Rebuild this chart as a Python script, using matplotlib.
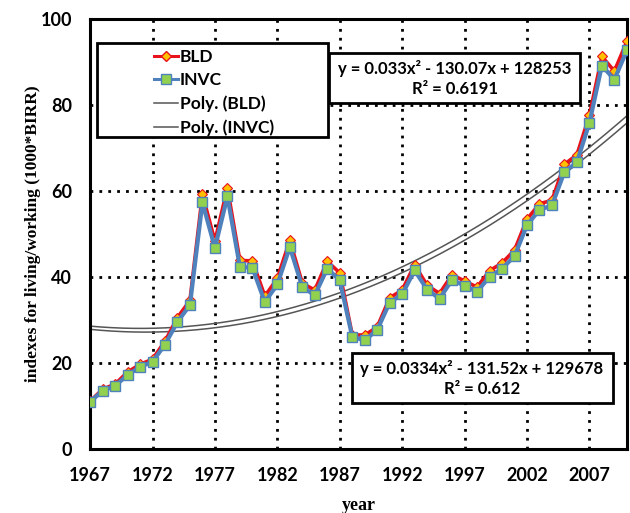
import numpy as np
import matplotlib
matplotlib.use('Agg')
import matplotlib.pyplot as plt
from matplotlib.lines import Line2D
from matplotlib.patches import Rectangle

years = np.arange(1967, 2011)

bld = [11.0, 13.8, 15.0, 17.8, 19.6, 20.8, 25.0, 30.5, 34.5, 59.2,
       48.3, 60.7, 43.8, 43.7, 35.5, 39.6, 48.5, 38.5, 36.9, 43.6,
       40.9, 26.5, 26.4, 28.3, 35.1, 36.9, 42.8, 38.0, 36.1, 40.5,
       39.0, 37.6, 41.4, 43.2, 46.2, 53.4, 57.0, 57.8, 66.2, 68.4,
       77.6, 91.3, 87.9, 94.8]

invc = [10.9, 13.4, 14.6, 17.1, 19.0, 20.2, 24.2, 29.5, 33.4, 57.3,
        46.7, 58.7, 42.3, 42.1, 34.1, 38.2, 46.9, 37.6, 35.7, 41.9,
        39.2, 26.0, 25.2, 27.6, 34.0, 35.9, 41.5, 37.0, 34.9, 39.3,
        37.9, 36.5, 40.0, 41.9, 44.8, 52.0, 55.6, 56.6, 64.4, 66.7,
        75.8, 89.2, 85.9, 92.7]

xticks = np.arange(1967, 2008, 5)
yticks = np.arange(0, 101, 20)

eq_bld = 'y = 0.033x² - 130.07x + 128253\nR² = 0.6191'
eq_invc = 'y = 0.0334x² - 131.52x + 129678\nR² = 0.612'

tick_font = 'Lato'
label_font = 'Liberation Serif'

fig = plt.figure(figsize=(6.3, 5.13), dpi=100)
ax = fig.add_axes([0.143, 0.1257, 0.852, 0.837])

# 2nd order polynomial trend lines (years centred for a stable fit)
xc = years - years.mean()
xs = np.linspace(years[0], years[-1], 300)
fit_bld = np.polyval(np.polyfit(xc, bld, 2), xs - years.mean())
fit_invc = np.polyval(np.polyfit(xc, invc, 2), xs - years.mean())

ax.plot(years, bld, color='#E8121B', lw=2.6, marker='D', markersize=5.5,
        markerfacecolor='#FFC000', markeredgecolor='#E8121B', markeredgewidth=0.8, zorder=3)
ax.plot(years, invc, color='#4F81BD', lw=3.0, marker='s', markersize=7.5,
        markerfacecolor='#92D050', markeredgecolor='#4F81BD', markeredgewidth=1.0, zorder=4)
ax.plot(xs, fit_bld, color='#555555', lw=1.1, zorder=2)
ax.plot(xs, fit_invc, color='#555555', lw=1.1, zorder=2)

ax.set_xlim(1967, 2010)
ax.set_ylim(0, 100)
ax.set_xticks(xticks)
ax.set_yticks(yticks)
ax.grid(True, color='black', linestyle=(0, (1, 2.2)), lw=2.0, zorder=1)
ax.set_axisbelow(True)
ax.tick_params(length=0, pad=13)
for lab in ax.get_xticklabels() + ax.get_yticklabels():
    lab.set_fontfamily(tick_font)
    lab.set_fontweight('bold')
    lab.set_fontsize(13)
for sp in ax.spines.values():
    sp.set_linewidth(2.2)

ax.set_xlabel('year', fontfamily=label_font, fontweight='bold', fontsize=13, labelpad=10)
ax.set_ylabel('indexes for living/working (1000*BIRR)', fontfamily=label_font,
              fontweight='bold', fontsize=12.5, labelpad=0)

# legend with its own frame
ax.add_patch(Rectangle((0.0125, 0.726), 0.4305, 0.219, transform=ax.transAxes,
                       facecolor='white', edgecolor='black', lw=2.0, zorder=5))
legend_elements = [
    Line2D([0], [0], color='#E8121B', lw=2.2, marker='D', markersize=5,
           markerfacecolor='#FFC000', markeredgecolor='#E8121B', label='BLD'),
    Line2D([0], [0], color='#4F81BD', lw=2.2, marker='s', markersize=6.5,
           markerfacecolor='#92D050', markeredgecolor='#4F81BD', label='INVC'),
    Line2D([0], [0], color='#555555', lw=1.1, label='Poly. (BLD)'),
    Line2D([0], [0], color='#555555', lw=1.1, label='Poly. (INVC)'),
]
leg = ax.legend(handles=legend_elements, loc='upper left', bbox_to_anchor=(0.119, 0.931),
                frameon=False, borderpad=0, borderaxespad=0, handlelength=1.4,
                labelspacing=0.42, handletextpad=0.1,
                prop={'family': tick_font, 'weight': 'bold', 'size': 12.5})
leg.set_zorder(6)

# trend line equation boxes
ax.add_patch(Rectangle((0.4456, 0.8037), 0.4669, 0.1178, transform=ax.transAxes,
                       facecolor='white', edgecolor='black', lw=2.0, zorder=5))
ax.text(0.679, 0.8626, eq_bld, transform=ax.transAxes, ha='center', va='center',
        fontfamily=tick_font, fontweight='bold', fontsize=12, linespacing=1.3, zorder=6)
ax.add_patch(Rectangle((0.4873, 0.1059), 0.4861, 0.1165, transform=ax.transAxes,
                       facecolor='white', edgecolor='black', lw=2.0, zorder=5))
ax.text(0.730, 0.164, eq_invc, transform=ax.transAxes, ha='center', va='center',
        fontfamily=tick_font, fontweight='bold', fontsize=12, linespacing=1.3, zorder=6)

fig.savefig('out.png', dpi=100)
